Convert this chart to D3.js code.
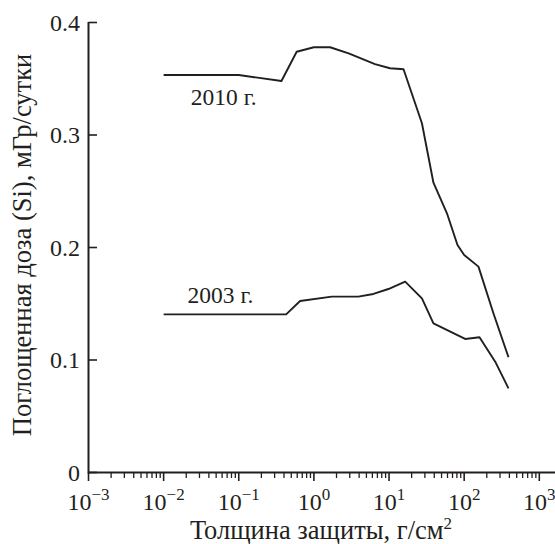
<!DOCTYPE html>
<html>
<head>
<meta charset="utf-8">
<script src="https://cdn.jsdelivr.net/npm/d3@7"></script>
<style>
  html, body { margin: 0; padding: 0; background: #fff; }
  svg { display: block; }
</style>
</head>
<body>
<svg id="chart" width="555" height="544"></svg>
<script>
// ---- data ----
const xMajorExponents = [-3, -2, -1, 0, 1, 2, 3];
const yTicks = [0, 0.1, 0.2, 0.3, 0.4];
const yTickLabels = ["0", "0.1", "0.2", "0.3", "0.4"];

const thickness2010 = [0.01, 0.1, 0.37, 0.59, 1.0, 1.64, 2.9, 6.5, 10.3, 15.6, 27.4, 39, 59, 81.5, 100, 155, 245, 389];
const dose2010      = [0.3533, 0.3533, 0.348, 0.374, 0.378, 0.378, 0.3726, 0.363, 0.3593, 0.3584, 0.3104, 0.2576, 0.2304, 0.2022, 0.1933, 0.183, 0.1415, 0.1024];

const thickness2003 = [0.01, 0.427, 0.655, 1.73, 3.9, 6.2, 9.8, 16.4, 27.4, 39, 103, 160, 259, 389];
const dose2003      = [0.1406, 0.1406, 0.1524, 0.1563, 0.1563, 0.1587, 0.1631, 0.1696, 0.1548, 0.1326, 0.1187, 0.1202, 0.0985, 0.0748];

const seriesLabels = [
  { text: "2010 г.", x: 0.063, y: 0.3267 },
  { text: "2003 г.", x: 0.057, y: 0.1505 }
];

const xTitle = "Толщина защиты, г/см";
const xTitleSup = "2";
const yTitle = "Поглощенная доза (Si), мГр/сутки";

// ---- layout ----
const W = 555, H = 544;
const ink = "#231f20";
const FONT = "'Liberation Serif', 'Times New Roman', serif";
const svg = d3.select("#chart");

const x = d3.scaleLog().domain([1e-3, 1e3]).range([88.5, 539.3]);
const y = d3.scaleLinear().domain([0, 0.4]).range([472.5, 22.5]);

const fsTick = 24, fsTitle = 26.5, fsLabel = 23.5, fsSup = 17;

function txt(sel) {
  return sel.attr("font-family", FONT).attr("fill", ink);
}

// axes lines
svg.append("line")
  .attr("x1", x.range()[0]).attr("x2", W)
  .attr("y1", y(0)).attr("y2", y(0))
  .attr("stroke", ink).attr("stroke-width", 2);
svg.append("line")
  .attr("x1", x.range()[0]).attr("x2", x.range()[0])
  .attr("y1", y(0.4) - 0.5).attr("y2", y(0) + 1)
  .attr("stroke", ink).attr("stroke-width", 2);

// x ticks: major + minor
const majorVals = xMajorExponents.map(e => Math.pow(10, e));
const minorVals = [];
for (let e = -3; e < 3; e++) for (let m = 2; m <= 9; m++) minorVals.push(m * Math.pow(10, e));

const gx = svg.append("g");
gx.selectAll("line.minor").data(minorVals).join("line")
  .attr("class", "minor")
  .attr("x1", d => x(d)).attr("x2", d => x(d))
  .attr("y1", y(0)).attr("y2", y(0) + 5.5)
  .attr("stroke", ink).attr("stroke-width", 1.3);
gx.selectAll("line.major").data(majorVals).join("line")
  .attr("class", "major")
  .attr("x1", d => x(d)).attr("x2", d => x(d))
  .attr("y1", y(0)).attr("y2", y(0) + 8.5)
  .attr("stroke", ink).attr("stroke-width", 1.6);

const xl = txt(gx.selectAll("text.xl").data(xMajorExponents).join("text"))
  .attr("class", "xl")
  .attr("x", d => x(Math.pow(10, d)))
  .attr("y", 510)
  .attr("text-anchor", "middle")
  .attr("font-size", fsTick);
xl.append("tspan").text("10");
xl.append("tspan")
  .attr("dy", -10)
  .attr("font-size", fsSup)
  .text(d => (d < 0 ? "\u2212" : "") + Math.abs(d));

// y ticks
const gy = svg.append("g");
gy.selectAll("line").data(yTicks).join("line")
  .attr("x1", x.range()[0]).attr("x2", x.range()[0] + 8.5)
  .attr("y1", d => y(d)).attr("y2", d => y(d))
  .attr("stroke", ink).attr("stroke-width", 1.6);
txt(gy.selectAll("text").data(yTicks).join("text"))
  .attr("x", 80)
  .attr("y", d => y(d))
  .attr("dy", "0.35em")
  .attr("text-anchor", "end")
  .attr("font-size", fsTick)
  .text((d, i) => yTickLabels[i]);

// lines
const line = d3.line().x(d => x(d[0])).y(d => y(d[1]));
const s2010 = thickness2010.map((t, i) => [t, dose2010[i]]);
const s2003 = thickness2003.map((t, i) => [t, dose2003[i]]);
[s2010, s2003].forEach(s => {
  svg.append("path").datum(s)
    .attr("d", line)
    .attr("fill", "none")
    .attr("stroke", ink)
    .attr("stroke-width", 1.9)
    .attr("stroke-linejoin", "round");
});

// series labels
txt(svg.selectAll("text.sl").data(seriesLabels).join("text"))
  .attr("class", "sl")
  .attr("x", d => x(d.x)).attr("y", d => y(d.y))
  .attr("text-anchor", "middle")
  .attr("font-size", fsLabel)
  .text(d => d.text);

// axis titles
const xt = txt(svg.append("text"))
  .attr("x", 321).attr("y", 539)
  .attr("text-anchor", "middle")
  .attr("font-size", fsTitle);
xt.append("tspan").text(xTitle);
xt.append("tspan").attr("dy", -10).attr("font-size", fsSup).text(xTitleSup);

txt(svg.append("text"))
  .attr("transform", "translate(31,245) rotate(-90)")
  .attr("text-anchor", "middle")
  .attr("font-size", fsTitle)
  .text(yTitle);
</script>
</body>
</html>
